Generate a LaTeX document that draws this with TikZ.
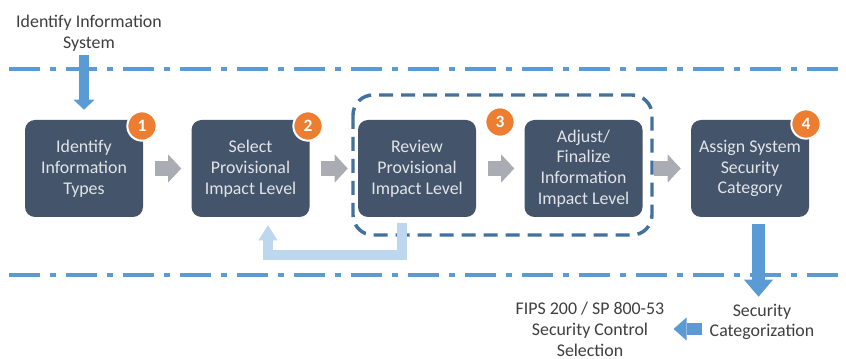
\documentclass[tikz,border=0pt]{standalone}
\usepackage{fontspec}
\setmainfont{Carlito}
\usetikzlibrary{arrows.meta,calc}
\definecolor{boxfill}{HTML}{44546A}
\definecolor{boxtext}{HTML}{E1E4E8}
\definecolor{badgeorange}{HTML}{ED7D31}
\definecolor{stepgray}{HTML}{A9ADB3}
\definecolor{flowblue}{HTML}{5B9BD5}
\definecolor{loopblue}{HTML}{BDD7EE}
\definecolor{groupblue}{HTML}{41719C}
\definecolor{labelgray}{HTML}{3F3F3F}
\begin{document}
\begin{tikzpicture}[x=0.75pt,y=-0.75pt,
  stepbox/.style={rounded corners=7.5pt, fill=boxfill, text=boxtext,
    minimum width=88.5pt, minimum height=72.75pt, align=center,
    inner sep=2pt, font=\fontsize{13.4}{15.6}\selectfont},
  badge/.style={circle, fill=badgeorange, draw=white, line width=1.5pt,
    minimum size=22pt, inner sep=0pt, text=white,
    font=\bfseries\fontsize{13}{13}\selectfont},
  outlabel/.style={align=center, text=labelgray, inner sep=0pt,
    font=\fontsize{13.4}{15.5}\selectfont},
  boundary/.style={draw=flowblue, line width=3pt,
    dash pattern=on 23.25pt off 7.5pt on 4.5pt off 7.5pt},
  stepflow/.style={draw=stepgray, line width=11.25pt,
    -{Triangle[length=9.75pt,width=21pt,line width=0pt]},
    shorten <=8.5pt, shorten >=7.5pt},
  groupframe/.style={draw=groupblue, line width=2.6pt, rounded corners=15pt,
    dash pattern=on 10.5pt off 6pt},
]
\useasboundingbox (0,0) rectangle (846,359);
\fill[white] (0,0) rectangle (846,359);

% system boundary lines
\draw[boundary] (9,69) -- (846,69);
\draw[boundary] (9,275) -- (846,275);

% process steps
\node[stepbox] (b1) at (84,168.5)    {Identify\\Information\\Types};
\node[stepbox] (b2) at (250.5,168.5) {Select\\Provisional\\Impact Level};
\node[stepbox] (b3) at (417,168.5)   {Review\\Provisional\\Impact Level};
\node[stepbox] (b4) at (583.5,168.5) {Adjust/\\Finalize\\Information\\Impact Level};
\node[stepbox] (b5) at (750,168.5)   {Assign System\\Security\\Category};

% step 3 grouping
\draw[groupframe] (353,95) rectangle (652,235);

% outside labels
\node[outlabel] (sys) at (89,33) {Identify Information\\System};
\node[outlabel] (cat) at (762,322) {Security\\Categorization};
\node[outlabel] (fips) at (590,329.5) {FIPS 200 / SP 800-53\\Security Control\\Selection};

% flow between steps
\draw[stepflow] (b1) -- (b2);
\draw[stepflow] (b2) -- (b3);
\draw[stepflow] (b3) -- (b4);
\draw[stepflow] (b4) -- (b5);

% feedback from review back to selection
\draw[loopblue, line width=7.5pt,
      -{Triangle[length=11.25pt,width=14.25pt,line width=0pt]},
      shorten <=4.5pt, shorten >=6pt]
  ([xshift=-11.25pt]b3.south) -- ++(0,38) -| ([xshift=13.1pt]b2.south);

% input and output arrows
\draw[flowblue, line width=7.5pt,
      -{Triangle[length=7.5pt,width=15.75pt,line width=0pt]},
      shorten <=3pt, shorten >=7.5pt]
  (sys.south -| b1.north) -- (b1.north);
\draw[flowblue, line width=9.75pt,
      -{Triangle[length=12.75pt,width=21.75pt,line width=0pt]},
      shorten <=5.25pt, shorten >=5.25pt]
  ([xshift=6.4pt]b5.south) -- ([xshift=6.4pt]b5.south |- cat.north);
\draw[flowblue, line width=9pt,
      -{Triangle[length=9.75pt,width=17.25pt,line width=0pt]},
      shorten <=5.25pt, shorten >=6.75pt]
  ([yshift=-5.25pt]cat.west) -- ([yshift=-5.25pt]cat.west -| fips.east);

% step numbers
\node[badge] (n1) at (142,126) {1};
\node[badge] (n2) at (308,126) {2};
\node[badge] (n3) at (500,122) {3};
\node[badge] (n4) at (806,124) {4};
\end{tikzpicture}
\end{document}
